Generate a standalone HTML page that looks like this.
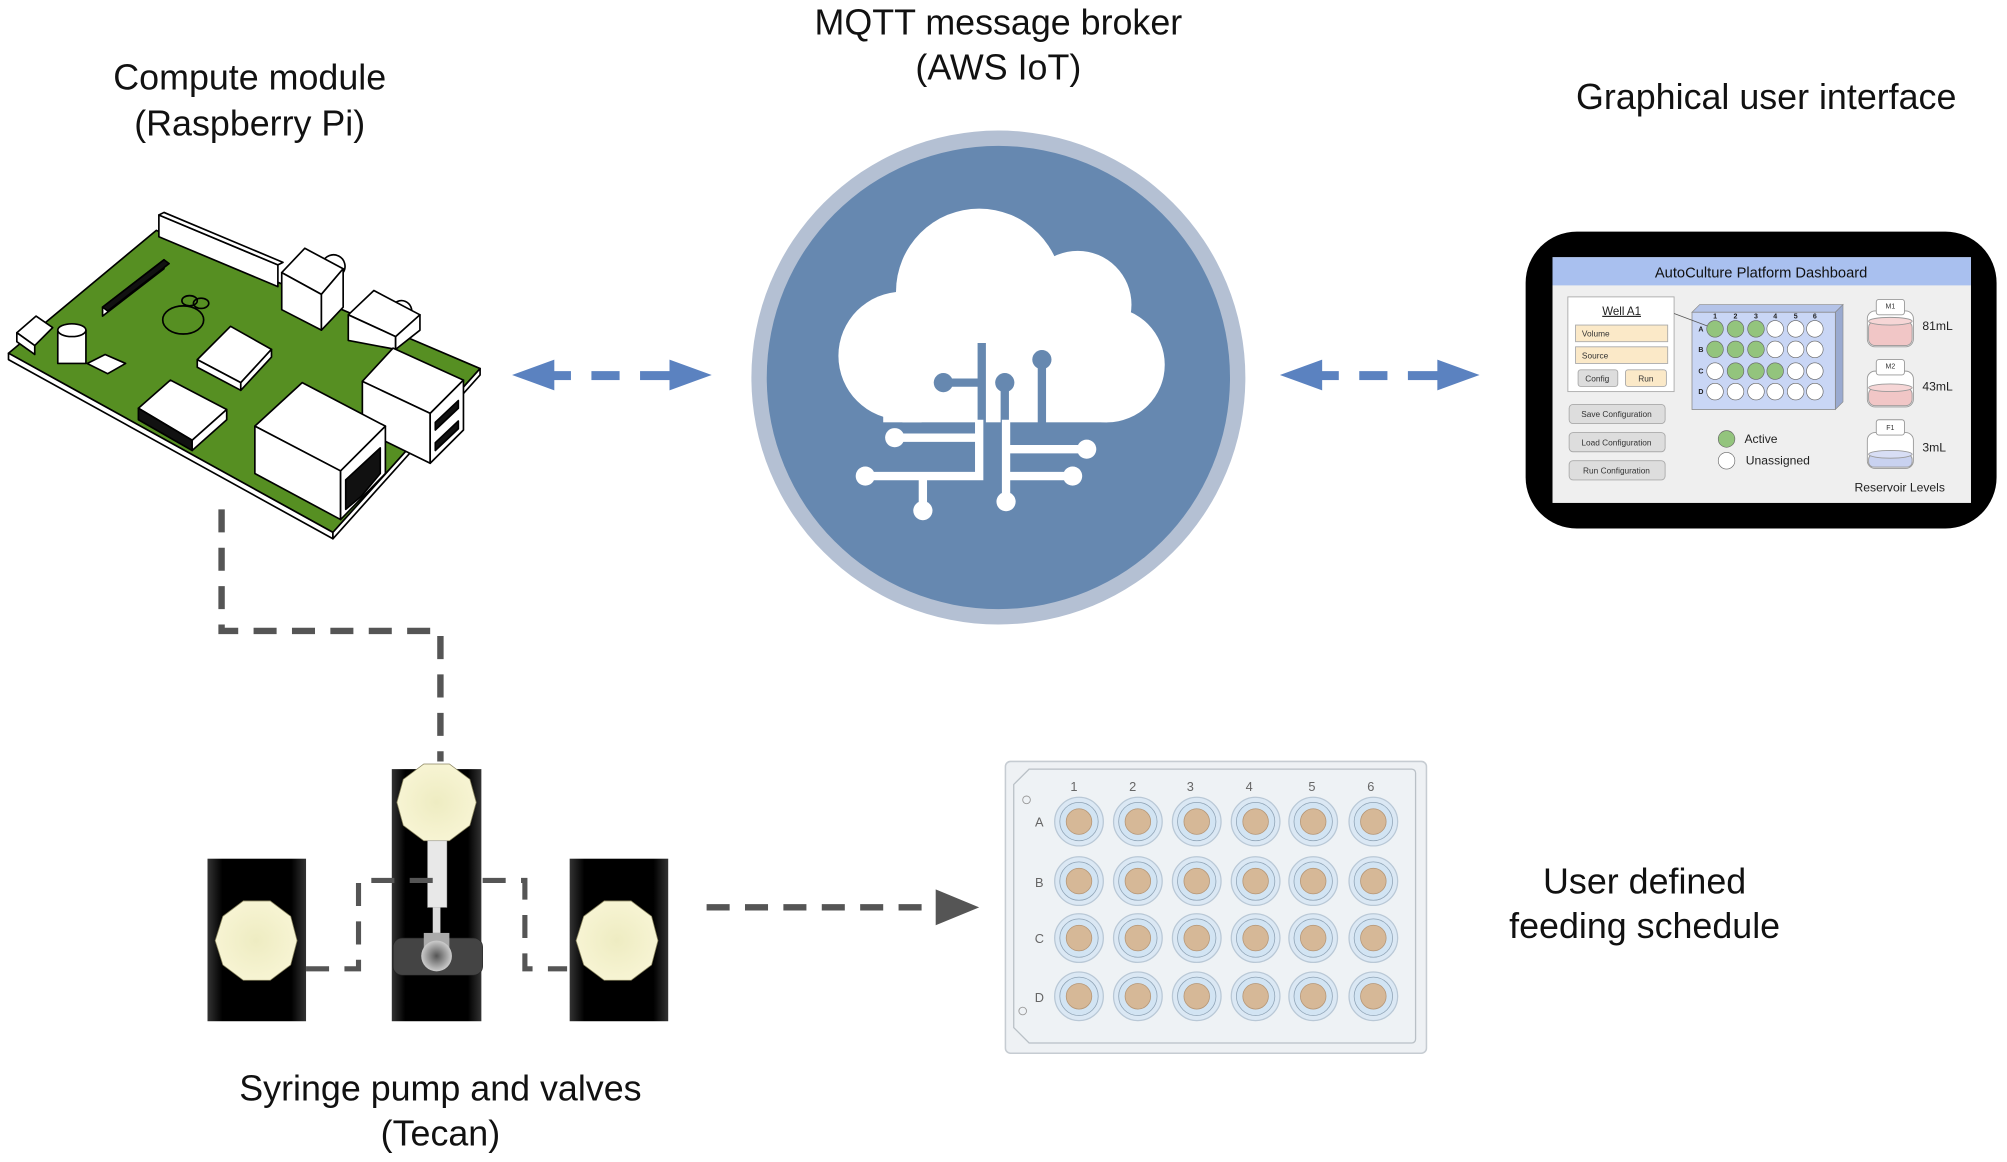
<!DOCTYPE html>
<html><head><meta charset="utf-8"><style>
html,body{margin:0;padding:0;background:#fff;}
svg{display:block;}
text{font-family:"Liberation Sans",sans-serif;}
</style></head><body>
<svg width="2007" height="1162" viewBox="0 0 1568 908" xmlns="http://www.w3.org/2000/svg">
<defs>
<radialGradient id="oct" cx="50%" cy="50%" r="50%"><stop offset="0" stop-color="#eeecc2"/><stop offset="1" stop-color="#f7f4d3"/></radialGradient>
<linearGradient id="blk" x1="0" x2="1" y1="0" y2="0"><stop offset="0" stop-color="#333"/><stop offset="0.15" stop-color="#000"/><stop offset="0.85" stop-color="#000"/><stop offset="1" stop-color="#333"/></linearGradient>
<radialGradient id="ball"><stop offset="0" stop-color="#555"/><stop offset="1" stop-color="#ccc"/></radialGradient>
</defs>

<g font-size="28" fill="#111" text-anchor="middle">
<text x="195" y="70">Compute module</text>
<text x="195" y="106">(Raspberry Pi)</text>
<text x="780" y="27">MQTT message broker</text>
<text x="780" y="62">(AWS IoT)</text>
<text x="1380" y="85">Graphical user interface</text>
<text x="1285" y="698">User defined</text>
<text x="1285" y="733">feeding schedule</text>
<text x="344" y="860">Syringe pump and valves</text>
<text x="344" y="895">(Tecan)</text>
</g>

<g stroke="#000" stroke-width="1.3" stroke-linejoin="round">
<polygon points="6.5,276 122,180 375,288 260,416" fill="#568f22"/>
<polygon points="6.5,276 260,416 260,421 6.5,281" fill="#fff"/>
<polygon points="260,416 375,288 375,293 260,421" fill="#fff"/>
<polygon points="124,168 217,207 217,224 124,185" fill="#fff"/>
<polygon points="124,168 128,166 221,205 217,207" fill="#fff"/>
<polygon points="80,240 128,203 128,210 80,247" fill="#fff"/>
<polygon points="80,240 84,243 132,206 128,203" fill="#111"/>
<ellipse cx="143" cy="250" rx="16" ry="11" fill="none"/>
<ellipse cx="148" cy="235" rx="6" ry="4" fill="none"/>
<ellipse cx="157" cy="237" rx="6" ry="4" fill="none"/>
<polygon points="13,260 28,247 41,256 27,270" fill="#fff"/>
<polygon points="13,260 27,270 27,277 13,267" fill="#fff"/>
<rect x="45" y="258" width="22" height="26" fill="#fff"/>
<ellipse cx="56" cy="258" rx="11" ry="5" fill="#fff"/>
<polygon points="68,284 82,277 98,284 84,292" fill="#fff"/>
<polygon points="154,281 180,255 212,273 188,299" fill="#fff"/>
<polygon points="154,281 188,299 188,305 154,287" fill="#fff"/>
<polygon points="188,299 212,273 212,279 188,305" fill="#fff"/>
<polygon points="108,319 133,297 177,320 150,344" fill="#fff"/>
<polygon points="108,319 150,344 150,352 108,328" fill="#111"/>
<polygon points="150,344 177,320 177,328 150,352" fill="#fff"/>
<path d="M252,205 a9,9 0 1 1 16,8" fill="#fff"/>
<polygon points="220,213 238,194 268,210 251,230" fill="#fff"/>
<polygon points="220,213 251,230 251,258 220,242" fill="#fff"/>
<polygon points="251,230 268,210 268,240 251,258" fill="#fff"/>
<path d="M306,240 a8,8 0 1 1 15,6" fill="#fff"/>
<polygon points="272,246 292,227 328,246 309,263" fill="#fff"/>
<polygon points="272,246 309,263 309,273 272,266" fill="#fff"/>
<polygon points="309,263 328,246 328,258 309,273" fill="#fff"/>
<polygon points="283,298 307,272 362,297 336,323" fill="#fff"/>
<polygon points="283,298 336,323 336,362 283,336" fill="#fff"/>
<polygon points="336,323 362,297 362,336 336,362" fill="#fff"/>
<polygon points="340,330 358,313 358,319 340,336" fill="#111"/>
<polygon points="340,346 358,329 358,335 340,352" fill="#111"/>
<polygon points="199,333 236,299 301,333 266,368" fill="#fff"/>
<polygon points="199,333 266,368 266,406 199,370" fill="#fff"/>
<polygon points="266,368 301,333 301,370 266,406" fill="#fff"/>
<polygon points="270,375 297,350 297,370 282,388 270,398" fill="#111"/>
</g>

<path d="M173,398 V493 H344 V595" fill="none" stroke="#555" stroke-width="5" stroke-dasharray="18,12"/>

<g fill="#5b82c0">
<polygon points="400,293 433,281 433,305"/>
<rect x="432" y="290" width="14" height="7"/>
<rect x="462" y="290" width="22" height="7"/>
<rect x="500" y="290" width="24" height="7"/>
<polygon points="556,293 523,281 523,305"/>
<polygon points="1000,293 1033,281 1033,305"/>
<rect x="1032" y="290" width="14" height="7"/>
<rect x="1062" y="290" width="22" height="7"/>
<rect x="1100" y="290" width="24" height="7"/>
<polygon points="1156,293 1123,281 1123,305"/>
</g>

<circle cx="780" cy="295" r="193" fill="#b4c0d3"/>
<circle cx="780" cy="295" r="181" fill="#6688b0"/>
<g fill="#fff">
<circle cx="765" cy="228" r="65"/>
<circle cx="842" cy="238" r="42"/>
<circle cx="705" cy="278" r="50"/>
<circle cx="865" cy="285" r="45"/>
<rect x="705" y="250" width="160" height="80"/>
<rect x="690" y="290" width="30" height="40"/>
</g>
<g stroke="#6688b0" stroke-width="6.5" fill="none">
<path d="M767,268 V331"/><path d="M737,299 H767"/>
<path d="M785,299 V331"/><path d="M814,281 V331"/>
</g>
<g fill="#6688b0"><circle cx="737" cy="299" r="7.5"/><circle cx="785" cy="299" r="7.5"/><circle cx="814" cy="281" r="7.5"/></g>
<g stroke="#fff" stroke-width="6.5" fill="none">
<path d="M765,328 V372 H676"/><path d="M765,342 H699"/><path d="M721,372 V399"/>
<path d="M786,328 V392"/><path d="M786,351 H849"/><path d="M786,372 H838"/>
</g>
<g fill="#fff">
<circle cx="676" cy="372" r="7.5"/><circle cx="699" cy="342" r="7.5"/><circle cx="721" cy="399" r="7.5"/>
<circle cx="786" cy="392" r="7.5"/><circle cx="849" cy="351" r="7.5"/><circle cx="838" cy="372" r="7.5"/>
</g>

<rect x="1192" y="181" width="368" height="232" rx="40" fill="#000"/>
<rect x="1213" y="201" width="327" height="192" fill="#efefef"/>
<rect x="1213" y="201" width="327" height="22" fill="#a9c0ef"/>
<text x="1376" y="217" font-size="11.5" text-anchor="middle" fill="#111">AutoCulture Platform Dashboard</text>
<rect x="1225" y="232" width="83" height="74" fill="#fff" stroke="#aaa" stroke-width="0.7"/>
<text x="1267" y="246" font-size="9" text-anchor="middle" fill="#222" text-decoration="underline">Well A1</text>
<g stroke="#aaa" stroke-width="0.7" font-size="6.5" fill="#333">
<rect x="1231" y="254" width="72" height="13" fill="#fbe9c8"/>
<rect x="1231" y="271" width="72" height="13" fill="#fbe9c8"/>
<rect x="1233" y="289" width="31" height="13" rx="2" fill="#ddd"/>
<rect x="1270" y="289" width="32" height="13" rx="2" fill="#fbe9c8"/>
<rect x="1226" y="316" width="75" height="15" rx="3" fill="#ddd"/>
<rect x="1226" y="338" width="75" height="15" rx="3" fill="#ddd"/>
<rect x="1226" y="360" width="75" height="15" rx="3" fill="#ddd"/>
</g>
<g font-size="6.5" fill="#333" >
<text x="1236" y="263">Volume</text><text x="1236" y="280">Source</text>
<text x="1248" y="298" text-anchor="middle">Config</text><text x="1286" y="298" text-anchor="middle">Run</text>
<text x="1263" y="326" text-anchor="middle">Save Configuration</text>
<text x="1263" y="348" text-anchor="middle">Load Configuration</text>
<text x="1263" y="370" text-anchor="middle">Run Configuration</text>
</g>
<polygon points="1322,244 1328,238 1440,238 1434,244" fill="#b4c3e8" stroke="#888" stroke-width="0.5"/>
<polygon points="1434,244 1440,238 1440,314 1434,320" fill="#9aaad0" stroke="#888" stroke-width="0.5"/>
<rect x="1322" y="244" width="112" height="76" fill="#c9d6f5" stroke="#888" stroke-width="0.6"/>
<line x1="1308" y1="245" x2="1340" y2="257" stroke="#555" stroke-width="0.6"/>
<g font-size="5.5" fill="#222" font-weight="bold" text-anchor="middle">
<text x="1340" y="249">1</text><text x="1356" y="249">2</text><text x="1372" y="249">3</text><text x="1387" y="249">4</text><text x="1403" y="249">5</text><text x="1418" y="249">6</text>
<text x="1329" y="259">A</text><text x="1329" y="275">B</text><text x="1329" y="292">C</text><text x="1329" y="308">D</text>
</g>
<g stroke="#666" stroke-width="0.5">
<circle cx="1340" cy="257" r="6.5" fill="#93c47d"/><circle cx="1356" cy="257" r="6.5" fill="#93c47d"/><circle cx="1372" cy="257" r="6.5" fill="#93c47d"/><circle cx="1387" cy="257" r="6.5" fill="#fff"/><circle cx="1403" cy="257" r="6.5" fill="#fff"/><circle cx="1418" cy="257" r="6.5" fill="#fff"/>
<circle cx="1340" cy="273" r="6.5" fill="#93c47d"/><circle cx="1356" cy="273" r="6.5" fill="#93c47d"/><circle cx="1372" cy="273" r="6.5" fill="#93c47d"/><circle cx="1387" cy="273" r="6.5" fill="#fff"/><circle cx="1403" cy="273" r="6.5" fill="#fff"/><circle cx="1418" cy="273" r="6.5" fill="#fff"/>
<circle cx="1340" cy="290" r="6.5" fill="#fff"/><circle cx="1356" cy="290" r="6.5" fill="#93c47d"/><circle cx="1372" cy="290" r="6.5" fill="#93c47d"/><circle cx="1387" cy="290" r="6.5" fill="#93c47d"/><circle cx="1403" cy="290" r="6.5" fill="#fff"/><circle cx="1418" cy="290" r="6.5" fill="#fff"/>
<circle cx="1340" cy="306" r="6.5" fill="#fff"/><circle cx="1356" cy="306" r="6.5" fill="#fff"/><circle cx="1372" cy="306" r="6.5" fill="#fff"/><circle cx="1387" cy="306" r="6.5" fill="#fff"/><circle cx="1403" cy="306" r="6.5" fill="#fff"/><circle cx="1418" cy="306" r="6.5" fill="#fff"/>
<circle cx="1349" cy="343" r="6.5" fill="#93c47d"/><circle cx="1349" cy="360" r="6.5" fill="#fff"/>
</g>
<g font-size="9.5" fill="#222"><text x="1363" y="346">Active</text><text x="1364" y="363">Unassigned</text>
<text x="1502" y="258">81mL</text><text x="1502" y="305">43mL</text><text x="1502" y="353">3mL</text>
<text x="1449" y="384">Reservoir Levels</text></g>
<g stroke="#999" stroke-width="0.7">
<rect x="1459" y="243" width="36" height="28" rx="6" fill="#fff"/><rect x="1460" y="251" width="34" height="19" rx="5" fill="#f1c6c6"/><ellipse cx="1477" cy="251" rx="17" ry="3" fill="#f6d6d6"/><rect x="1466" y="234" width="22" height="12" rx="2" fill="#fff"/>
<rect x="1459" y="290" width="36" height="28" rx="6" fill="#fff"/><rect x="1460" y="303" width="34" height="14" rx="5" fill="#f1c6c6"/><ellipse cx="1477" cy="303" rx="17" ry="3" fill="#f6d6d6"/><rect x="1466" y="281" width="22" height="12" rx="2" fill="#fff"/>
<rect x="1459" y="338" width="36" height="28" rx="6" fill="#fff"/><rect x="1460" y="355" width="34" height="10" rx="4" fill="#c9d2f0"/><ellipse cx="1477" cy="355" rx="17" ry="3" fill="#d8def5"/><rect x="1466" y="328" width="22" height="12" rx="2" fill="#fff"/>
</g>
<g font-size="5.5" fill="#333" text-anchor="middle"><text x="1477" y="241">M1</text><text x="1477" y="288">M2</text><text x="1477" y="336">F1</text></g>

<rect x="162" y="671" width="77" height="127" fill="url(#blk)"/>
<rect x="306" y="601" width="70" height="197" fill="url(#blk)"/>
<rect x="445" y="671" width="77" height="127" fill="url(#blk)"/>
<g fill="url(#oct)" stroke="#8a8560" stroke-width="0.6">
<polygon points="190,704 211,704 227,716 232,735 227,754 211,766 190,766 174,754 168,735 174,716"/>
<polygon points="331,597 351,597 367,609 372,627 367,645 351,657 331,657 315,645 310,627 315,609"/>
<polygon points="472,704 493,704 509,716 514,735 509,754 493,766 472,766 456,754 450,735 456,716"/>
</g>
<rect x="334" y="657" width="15" height="52" fill="#e8e8e8" stroke="#aaa" stroke-width="0.5"/>
<rect x="338" y="709" width="6" height="20" fill="#ddd"/>
<rect x="307" y="733" width="70" height="29" rx="7" fill="#444" stroke="#222" stroke-width="0.5"/>
<rect x="331" y="729" width="20" height="13" fill="#aaa"/>
<circle cx="341" cy="747" r="12" fill="url(#ball)"/>
<g fill="none" stroke="#555" stroke-width="4" stroke-dasharray="18,12">
<path d="M239,757 H280 V688 H340"/>
<path d="M377,688 H410 V757 H443"/>
</g>

<path d="M552,709 H735" stroke="#555" stroke-width="5" stroke-dasharray="18,12" fill="none"/>
<polygon points="765,709 731,695 731,723" fill="#555"/>

<rect x="785.5" y="595" width="329" height="228" rx="4" fill="#eef1f4" stroke="#c6ccd2" stroke-width="1.2"/>
<path d="M804,601 H1103 a3,3 0 0 1 3,3 V812 a3,3 0 0 1 -3,3 H804 L792,803 V613 Z" fill="#eef2f5" stroke="#b9c0c6" stroke-width="1"/>
<circle cx="802" cy="625" r="3" fill="none" stroke="#999" stroke-width="0.7"/>
<circle cx="799" cy="790" r="3" fill="none" stroke="#999" stroke-width="0.7"/>
<g font-size="10" fill="#666" text-anchor="middle">
<text x="839" y="618">1</text><text x="885" y="618">2</text><text x="930" y="618">3</text><text x="976" y="618">4</text><text x="1025" y="618">5</text><text x="1071" y="618">6</text>
<text x="812" y="646">A</text><text x="812" y="693">B</text><text x="812" y="737">C</text><text x="812" y="783">D</text>
</g>
<g id="wells">
<g id="wr">
<g><circle cx="843" cy="642" r="19" fill="#dbe8f4" stroke="#b9c8d6"/><circle cx="843" cy="642" r="15" fill="#d2e4f3" stroke="#8fa3b5" stroke-width="0.6"/><circle cx="843" cy="642" r="10" fill="#d6b897" stroke="#b59676" stroke-width="0.6"/></g>
<g><circle cx="889" cy="642" r="19" fill="#dbe8f4" stroke="#b9c8d6"/><circle cx="889" cy="642" r="15" fill="#d2e4f3" stroke="#8fa3b5" stroke-width="0.6"/><circle cx="889" cy="642" r="10" fill="#d6b897" stroke="#b59676" stroke-width="0.6"/></g>
<g><circle cx="935" cy="642" r="19" fill="#dbe8f4" stroke="#b9c8d6"/><circle cx="935" cy="642" r="15" fill="#d2e4f3" stroke="#8fa3b5" stroke-width="0.6"/><circle cx="935" cy="642" r="10" fill="#d6b897" stroke="#b59676" stroke-width="0.6"/></g>
<g><circle cx="981" cy="642" r="19" fill="#dbe8f4" stroke="#b9c8d6"/><circle cx="981" cy="642" r="15" fill="#d2e4f3" stroke="#8fa3b5" stroke-width="0.6"/><circle cx="981" cy="642" r="10" fill="#d6b897" stroke="#b59676" stroke-width="0.6"/></g>
<g><circle cx="1026" cy="642" r="19" fill="#dbe8f4" stroke="#b9c8d6"/><circle cx="1026" cy="642" r="15" fill="#d2e4f3" stroke="#8fa3b5" stroke-width="0.6"/><circle cx="1026" cy="642" r="10" fill="#d6b897" stroke="#b59676" stroke-width="0.6"/></g>
<g><circle cx="1073" cy="642" r="19" fill="#dbe8f4" stroke="#b9c8d6"/><circle cx="1073" cy="642" r="15" fill="#d2e4f3" stroke="#8fa3b5" stroke-width="0.6"/><circle cx="1073" cy="642" r="10" fill="#d6b897" stroke="#b59676" stroke-width="0.6"/></g>
</g>
<use href="#wr" y="46.5"/>
<use href="#wr" y="91"/>
<use href="#wr" y="136.5"/>
</g>
</svg>
</body></html>
